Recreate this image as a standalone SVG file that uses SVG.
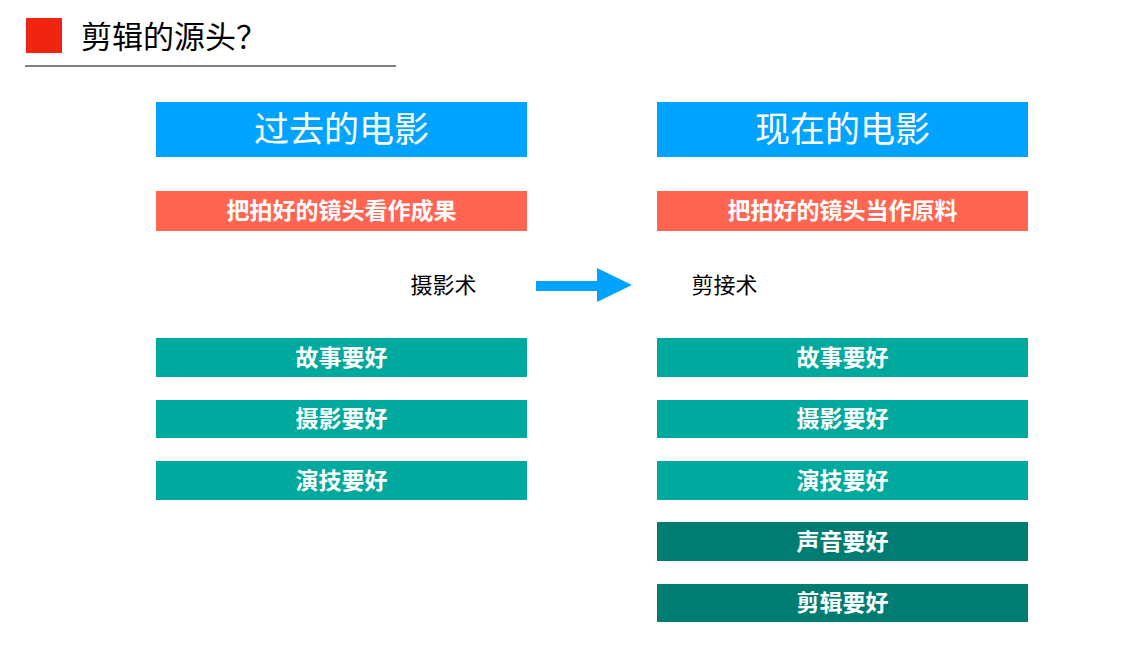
<svg xmlns="http://www.w3.org/2000/svg" width="1145" height="657" viewBox="0 0 1145 657">
<style>
text{font-family:"Noto Sans CJK SC","Noto Sans CJK JP",sans-serif;text-anchor:middle;}
.hd{fill:#00A3FF;}
.hdt{fill:#fff;font-size:35px;}
.or{fill:#FF6551;}
.t1{fill:#00A99D;}
.t2{fill:#007D73;}
.bt{fill:#fff;font-size:23px;font-weight:bold;}
.lb{fill:#000;font-size:22px;}
</style>
<rect width="1145" height="657" fill="#fff"/>
<g id="title">
<rect x="26" y="18" width="36" height="35" fill="#EF2512"/>
<text x="81" y="48" style="text-anchor:start;font-size:31px" fill="#000">剪辑的源头？</text>
<line x1="25" y1="66" x2="396" y2="66" stroke="#000" stroke-width="1.2"/>
</g>
<g id="left-header"><rect class="hd" x="156" y="102" width="371" height="55"/><text class="hdt" x="341.5" y="142">过去的电影</text></g>
<g id="right-header"><rect class="hd" x="657" y="102" width="371" height="55"/><text class="hdt" x="842.5" y="142">现在的电影</text></g>
<g id="left-view"><rect class="or" x="156" y="191" width="371" height="40"/><text class="bt" x="341.5" y="219">把拍好的镜头看作成果</text></g>
<g id="right-view"><rect class="or" x="657" y="191" width="371" height="40"/><text class="bt" x="842.5" y="219">把拍好的镜头当作原料</text></g>
<g id="left-label"><text class="lb" x="443.5" y="293">摄影术</text></g>
<g id="right-label"><text class="lb" x="724.5" y="293">剪接术</text></g>
<g id="connectors"><polygon points="536,281 597,281 597,268 632,285 597,302 597,291 536,291" fill="#00A3FF"/></g>
<g id="l1"><rect class="t1" x="156" y="338" width="371" height="39"/><text class="bt" x="341.5" y="366">故事要好</text></g>
<g id="l2"><rect class="t1" x="156" y="400" width="371" height="38"/><text class="bt" x="341.5" y="427">摄影要好</text></g>
<g id="l3"><rect class="t1" x="156" y="461" width="371" height="39"/><text class="bt" x="341.5" y="489">演技要好</text></g>
<g id="r1"><rect class="t1" x="657" y="338" width="371" height="39"/><text class="bt" x="842.5" y="366">故事要好</text></g>
<g id="r2"><rect class="t1" x="657" y="400" width="371" height="38"/><text class="bt" x="842.5" y="427">摄影要好</text></g>
<g id="r3"><rect class="t1" x="657" y="461" width="371" height="39"/><text class="bt" x="842.5" y="489">演技要好</text></g>
<g id="r4"><rect class="t2" x="657" y="522" width="371" height="39"/><text class="bt" x="842.5" y="550">声音要好</text></g>
<g id="r5"><rect class="t2" x="657" y="584" width="371" height="38"/><text class="bt" x="842.5" y="611">剪辑要好</text></g>
</svg>
